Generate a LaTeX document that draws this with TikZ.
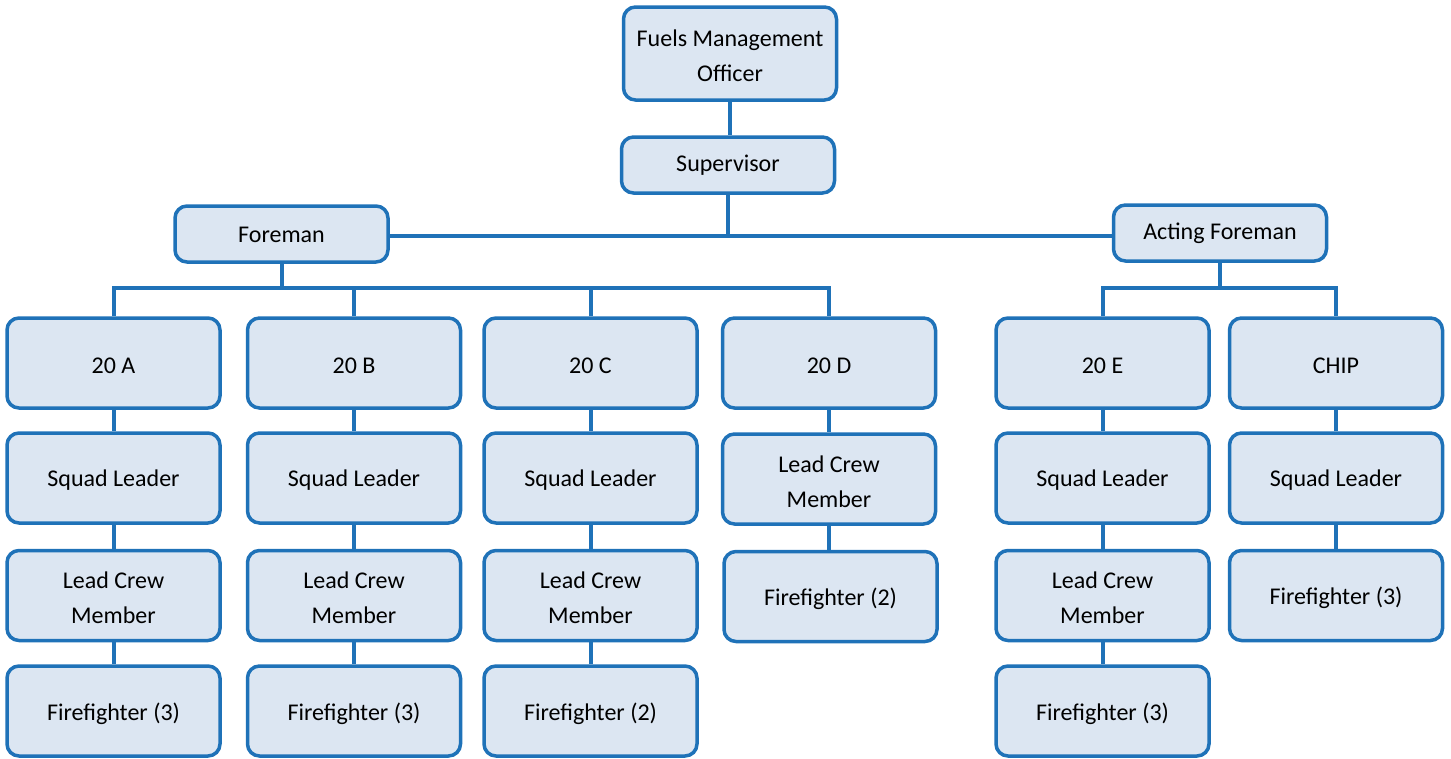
\documentclass[tikz,border=0pt]{standalone}
\usepackage{fontspec}
\setmainfont{Carlito}
\definecolor{boxfill}{HTML}{DCE6F2}
\definecolor{boxline}{HTML}{1F72B8}
\begin{document}
\begin{tikzpicture}[x=1pt,y=-1pt,
  txt/.style={align=center, inner sep=0pt, font=\fontsize{24}{35}\selectfont},
  box/.style={draw=boxline, fill=boxfill, line width=3.5pt, rounded corners=12pt,
    minimum width=213pt, minimum height=90pt, inner sep=0pt,
    label={[txt, yshift=-2.5pt]center:#1}},
  sbox/.style={draw=boxline, fill=boxfill, line width=3.5pt, rounded corners=12pt,
    minimum width=213pt, minimum height=56pt, inner sep=0pt,
    label={[txt, yshift=-0.5pt]center:#1}},
  link/.style={draw=boxline, line width=4pt}]
\useasboundingbox (0,0) rectangle (1451,758);
% top
\node[box={Fuels Management\\Officer}, minimum height=93pt] (fmo) at (730,53.5) {};
\node[sbox={Supervisor}] (sup) at (728,165) {};
\node[sbox={Foreman}] (fore) at (281.5,234) {};
\node[sbox={Acting Foreman}] (act) at (1220,233) {};
% row 1
\node[box={20 A}] (a1) at (113.5,363) {};
\node[box={20 B}] (b1) at (354,363) {};
\node[box={20 C}] (c1) at (590.5,363) {};
\node[box={20 D}] (d1) at (829,363) {};
\node[box={20 E}] (e1) at (1102.5,363) {};
\node[box={CHIP}] (f1) at (1336,363) {};
% row 2
\node[box={Squad Leader}] (a2) at (113.5,478) {};
\node[box={Squad Leader}] (b2) at (354,478) {};
\node[box={Squad Leader}] (c2) at (590.5,478) {};
\node[box={Lead Crew\\Member}] (d2) at (829,479) {};
\node[box={Squad Leader}] (e2) at (1102.5,478) {};
\node[box={Squad Leader}] (f2) at (1336,478) {};
% row 3
\node[box={Lead Crew\\Member}] (a3) at (113.5,595.5) {};
\node[box={Lead Crew\\Member}] (b3) at (354,595.5) {};
\node[box={Lead Crew\\Member}] (c3) at (590.5,595.5) {};
\node[box={Firefighter (2)}] (d3) at (830.5,596.5) {};
\node[box={Lead Crew\\Member}] (e3) at (1102.5,595.5) {};
\node[box={Firefighter (3)}] (f3) at (1336,595.5) {};
% row 4
\node[box={Firefighter (3)}] (a4) at (113.5,711) {};
\node[box={Firefighter (3)}] (b4) at (354,711) {};
\node[box={Firefighter (2)}] (c4) at (590.5,711) {};
\node[box={Firefighter (3)}] (e4) at (1102.5,711) {};
% buses
\coordinate (mid) at (728,236);
\coordinate (fbus) at (283,288);
\coordinate (abus) at (1220,288);
\path[link] (fmo.south) -- (fmo.south |- sup.north);
\path[link] (fore.east |- mid) -- (act.west |- mid);
\path[link] (sup.south) -- (mid);
\path[link] (fore.south) -- (fore.south |- fbus);
\path[link] (a1.north) -- (a1.north |- fbus) -- (d1.north |- fbus) -- (d1.north);
\path[link] (b1.north) -- (b1.north |- fbus);
\path[link] (c1.north) -- (c1.north |- fbus);
\path[link] (act.south) -- (act.south |- abus);
\path[link] (e1.north) -- (e1.north |- abus) -- (f1.north |- abus) -- (f1.north);
% verticals
\foreach \c in {a,b,c,d,e,f}{
  \path[link] (\c1.south) -- (\c2.north);
  \path[link] (\c2.south) -- (\c2.south |- \c3.north);
}
\foreach \c in {a,b,c,e}{
  \path[link] (\c3.south) -- (\c4.north);
}
\end{tikzpicture}
\end{document}
